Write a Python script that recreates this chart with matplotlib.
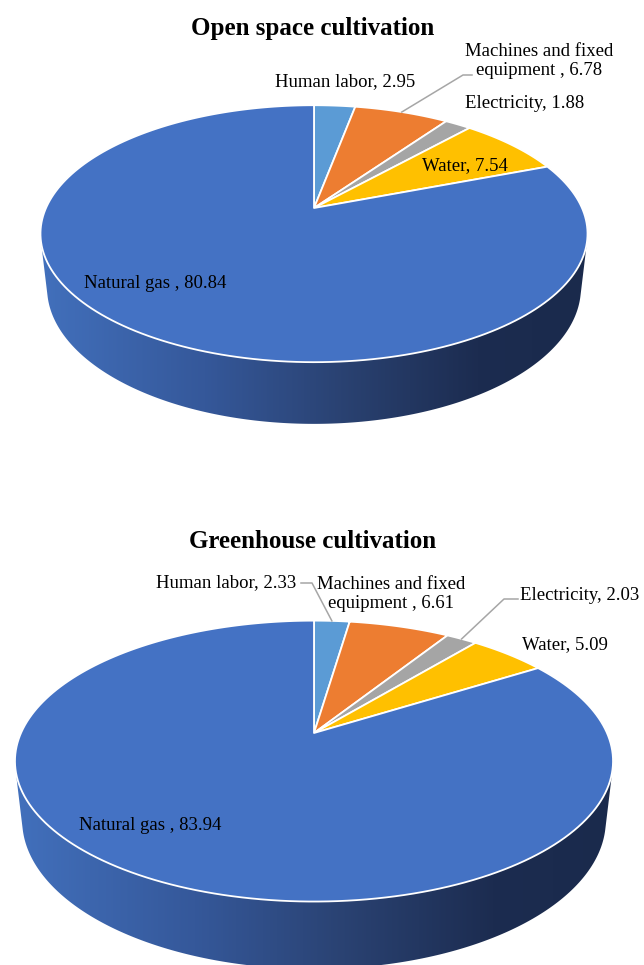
import numpy as np
import matplotlib
matplotlib.use('Agg')
import matplotlib.pyplot as plt
from matplotlib.patches import Polygon
from matplotlib.colors import LinearSegmentedColormap

plt.rcParams['font.family'] = ['Liberation Serif', 'DejaVu Serif']

# данные
categories = ['Human labor', 'Machines and fixed\nequipment ', 'Electricity', 'Water', 'Natural gas ']
open_values = [2.95, 6.78, 1.88, 7.54, 80.84]
greenhouse_values = [2.33, 6.61, 2.03, 5.09, 83.94]
titles = ['Open space cultivation', 'Greenhouse cultivation']
colors = ['#5B9BD5', '#ED7D31', '#A5A5A5', '#FFC000', '#4472C4']

# параметры "3D" проекции (как в Excel)
elev = np.radians(27.4)
cs, sn = np.cos(elev), np.sin(elev)
dist = 5 * cs
height = 0.229

side_cmap = LinearSegmentedColormap.from_list(
    'side', [(0, '#4270BC'), (0.3, '#35589A'), (0.55, '#2A4272'),
             (0.8, '#1C2C50'), (1, '#1A2A4C')])


def project(phi, z, cx, cy, S):
    x = np.sin(phi)
    y = np.cos(phi)
    V = y * sn + z * cs
    D = -y * cs + z * sn
    f = dist / (dist - D)
    return cx + S * x * f, cy - S * V * f


def hull(pts):
    pts = sorted(set(map(tuple, np.round(pts, 3))))
    def cross(o, a, b):
        return (a[0]-o[0])*(b[1]-o[1]) - (a[1]-o[1])*(b[0]-o[0])
    lower, upper = [], []
    for p in pts:
        while len(lower) >= 2 and cross(lower[-2], lower[-1], p) <= 0:
            lower.pop()
        lower.append(p)
    for p in reversed(pts):
        while len(upper) >= 2 and cross(upper[-2], upper[-1], p) <= 0:
            upper.pop()
        upper.append(p)
    return np.array(lower[:-1] + upper[:-1])


def pie3d(ax, values, cx, cy, S):
    t = np.linspace(0, 2*np.pi, 721)
    xt, yt = project(t, 0, cx, cy, S)
    xb, yb = project(t, -height, cx, cy, S)
    h = hull(np.column_stack([np.r_[xt, xb], np.r_[yt, yb]]))
    poly = Polygon(h, closed=True, facecolor='none', edgecolor='none')
    ax.add_patch(poly)
    grad = np.linspace(0, 1, 256).reshape(1, -1)
    im = ax.imshow(grad, cmap=side_cmap, aspect='auto',
                   extent=(h[:, 0].min(), h[:, 0].max(), h[:, 1].max(), h[:, 1].min()),
                   zorder=1)
    im.set_clip_path(poly)

    fr = np.array(values) / np.sum(values)
    bounds = np.r_[0, np.cumsum(fr)] * 2*np.pi
    mids = []
    for i in range(len(values)):
        a = np.linspace(bounds[i], bounds[i+1], 200)
        px, py = project(a, 0, cx, cy, S)
        pts = np.column_stack([np.r_[cx, px], np.r_[cy, py]])
        ax.add_patch(Polygon(pts, closed=True, facecolor=colors[i],
                             edgecolor='white', lw=1.3, zorder=2, joinstyle='round'))
        mids.append(project((bounds[i] + bounds[i+1]) / 2, 0, cx, cy, S))
    return mids


fig = plt.figure(figsize=(6.44, 9.65), dpi=100)
ax = fig.add_axes([0, 0, 1, 1])

charts = [
    dict(values=open_values, cx=314, cy=208, S=268, ty=27,
         pos=[(345, 82), (539, 61), (525, 104), (465, 166), (155, 283)],
         leaders={1: [(463, 75), (472, 75)]}),
    dict(values=greenhouse_values, cx=314, cy=733, S=293, ty=540,
         pos=[(226, 583), (391, 594), (580, 596), (565, 645), (150, 826)],
         leaders={0: [(312, 583), (301, 583)], 2: [(504, 599), (518, 599)]}),
]

for k, ch in enumerate(charts):
    mids = pie3d(ax, ch['values'], ch['cx'], ch['cy'], ch['S'])
    ax.text(ch['cx'] - 1, ch['ty'] + 1, titles[k], ha='center', va='center',
            fontsize=18, fontweight='bold', zorder=5)
    for i, v in enumerate(ch['values']):
        ax.text(ch['pos'][i][0], ch['pos'][i][1], f'{categories[i]}, {v:.2f}',
                ha='center', va='center', fontsize=13.5, linespacing=1.16, zorder=5)
        if i in ch['leaders']:
            knots = [mids[i]] + ch['leaders'][i]
            ax.plot([p[0] for p in knots], [p[1] for p in knots],
                    color='#A6A6A6', lw=1.1, zorder=4)

ax.set_xlim(0, 644)
ax.set_ylim(965, 0)
ax.axis('off')
fig.savefig('out.png', dpi=100, facecolor='white')
